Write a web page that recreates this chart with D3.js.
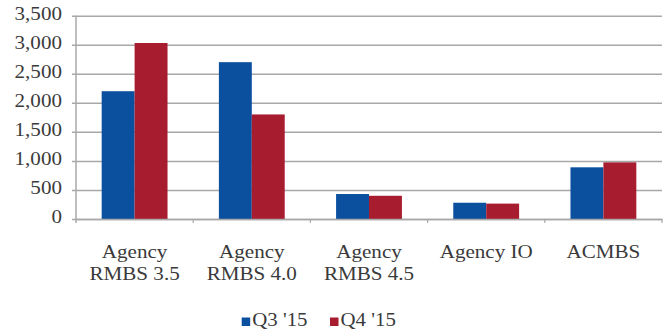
<!DOCTYPE html>
<html>
<head>
<meta charset="utf-8">
<script src="https://cdn.jsdelivr.net/npm/d3@7/dist/d3.min.js"></script>
<style>
  html, body { margin: 0; padding: 0; background: #fff; }
  svg { display: block; }
  text { font-family: "Liberation Serif", "Times New Roman", serif; fill: #3a3a3a; }
</style>
</head>
<body>
<svg id="chart" width="669" height="336"></svg>
<script>
// Holdings by asset class, Q3 '15 vs Q4 '15
const categories = [
  ["Agency", "RMBS 3.5"],
  ["Agency", "RMBS 4.0"],
  ["Agency", "RMBS 4.5"],
  ["Agency IO"],
  ["ACMBS"]
];
const seriesNames = ["Q3 '15", "Q4 '15"];
const q3Values = [2200, 2700, 430, 280, 890];
const q4Values = [3030, 1800, 400, 265, 975];
const yTicks = [0, 500, 1000, 1500, 2000, 2500, 3000, 3500];
const colors = ["#0b4f9f", "#a81c2f"];

const svg = d3.select("#chart");
const plotLeft = 76, plotRight = 662, plotTop = 15.7, plotBottom = 219;
const stretch = "scale(1.14,1)";
const fontSize = "18.5px";
const gridColor = "#a8a8a8";
const textColor = "#3a3a3a";

const catKeys = categories.map(c => c.join(" "));
const x0 = d3.scaleBand().domain(catKeys).range([plotLeft, plotRight]).padding(0);
const x1 = d3.scaleBand().domain(seriesNames).range([0, x0.bandwidth()])
  .paddingInner(0).paddingOuter(0.78);
const y = d3.scaleLinear().domain([0, 3500]).range([plotBottom, plotTop]);

// Gridlines + y tick labels
const yAxis = d3.axisLeft(y)
  .tickValues(yTicks)
  .tickSize(-(plotRight - plotLeft + 4))
  .tickFormat(d3.format(","));
const gy = svg.append("g")
  .attr("transform", `translate(${plotLeft - 4},0)`)
  .call(yAxis);
gy.select(".domain").remove();
gy.selectAll(".tick line").attr("stroke", gridColor).attr("stroke-width", 1.5);
gy.selectAll(".tick text")
  .attr("x", null)
  .attr("dy", "0.2em")
  .attr("transform", `translate(-10,0) ${stretch}`)
  .style("font-size", fontSize)
  .style("font-family", "Liberation Serif, serif")
  .attr("fill", textColor);

// Bars
const rows = catKeys.map((k, i) => ({ key: k, values: [q3Values[i], q4Values[i]] }));
const groups = svg.append("g").selectAll("g")
  .data(rows).join("g")
  .attr("transform", d => `translate(${x0(d.key)},0)`);
groups.selectAll("rect")
  .data(d => d.values.map((v, j) => ({ s: seriesNames[j], v, j })))
  .join("rect")
  .attr("x", d => x1(d.s))
  .attr("width", x1.bandwidth())
  .attr("y", d => y(d.v))
  .attr("height", d => y(0) - y(d.v))
  .attr("fill", d => colors[d.j]);

// Axis lines
svg.append("line")
  .attr("x1", plotLeft).attr("x2", plotLeft)
  .attr("y1", plotTop).attr("y2", plotBottom + 4)
  .attr("stroke", gridColor).attr("stroke-width", 1.5);

const xAxis = d3.axisBottom(x0).tickSize(0).tickPadding(0);
const gx = svg.append("g")
  .attr("transform", `translate(0,${plotBottom})`)
  .call(xAxis);
gx.select(".domain").attr("stroke", gridColor).attr("stroke-width", 1.5);
gx.selectAll(".tick text").each(function(d, i) {
  const t = d3.select(this);
  t.text(null)
    .attr("y", 0).attr("dy", null)
    .attr("transform", `translate(0,39) ${stretch}`)
    .style("font-size", fontSize)
    .style("font-family", "Liberation Serif, serif")
    .attr("fill", textColor);
  categories[i].forEach((line, li) => {
    t.append("tspan").attr("x", 0).attr("y", li * 22).text(line);
  });
});

// Boundary ticks under the x axis
const boundaries = catKeys.map(k => x0(k)).concat([x0(catKeys[catKeys.length - 1]) + x0.bandwidth()]);
svg.append("g").selectAll("line")
  .data(boundaries.slice(1)).join("line")
  .attr("x1", d => d).attr("x2", d => d)
  .attr("y1", plotBottom).attr("y2", plotBottom + 4)
  .attr("stroke", gridColor).attr("stroke-width", 1.2);

// Legend
const legendX = [241.7, 330];
const legend = svg.append("g").selectAll("g")
  .data(seriesNames).join("g")
  .attr("transform", (d, i) => `translate(${legendX[i]},326)`);
legend.append("rect")
  .attr("x", 0).attr("y", -8.5).attr("width", 8.5).attr("height", 8.5)
  .attr("fill", (d, i) => colors[i]);
legend.append("text")
  .attr("transform", `translate(10.5,0) scale(1.16,1)`)
  .style("font-size", "18px")
  .attr("fill", textColor)
  .text(d => d);
</script>
</body>
</html>
